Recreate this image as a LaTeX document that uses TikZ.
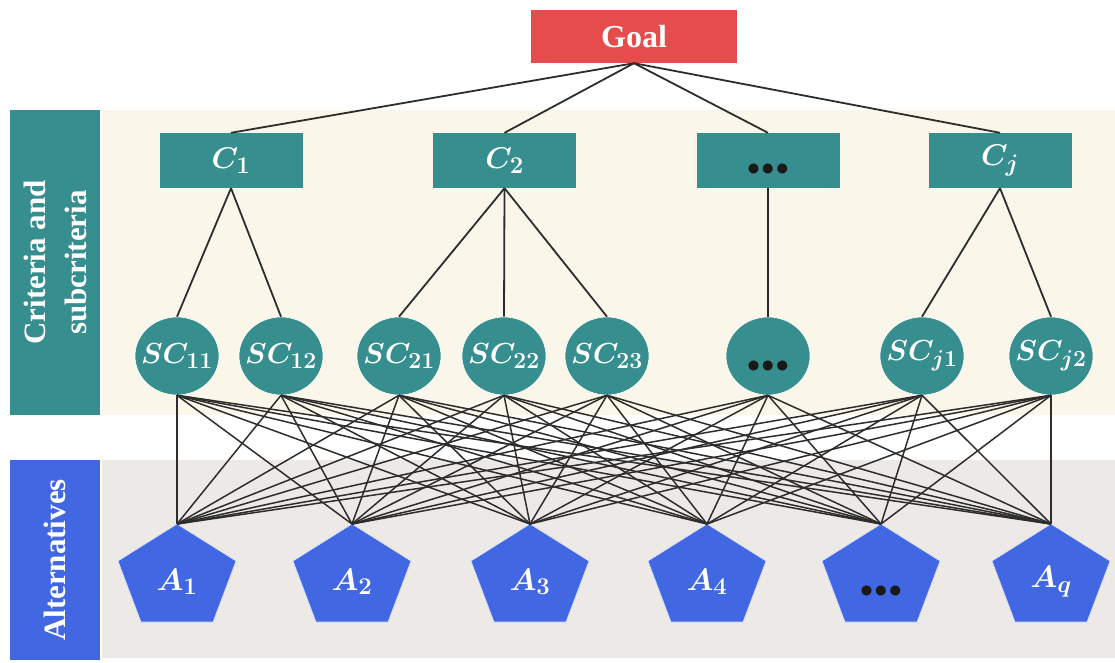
\RequirePackage{fix-cm}
\documentclass[tikz,border=0pt]{standalone}
\usepackage[no-math]{fontspec}
\setmainfont{Liberation Serif}
\usetikzlibrary{shapes.geometric}
\DeclareMathSizes{29}{29}{23}{18}
\DeclareMathSizes{30}{30}{24}{19}
\DeclareMathSizes{31}{31}{24}{19}
\definecolor{tealc}{RGB}{54,142,142}
\definecolor{goalred}{RGB}{230,76,76}
\definecolor{altblue}{RGB}{66,103,226}
\definecolor{beigebg}{RGB}{250,246,233}
\definecolor{graybg}{RGB}{236,233,231}
\definecolor{linec}{RGB}{45,45,45}
\tikzset{
  goalbox/.style={fill=goalred, minimum width=206pt, minimum height=53pt, inner sep=0pt, text=white, font=\fontsize{32}{36}\selectfont\bfseries},
  critbox/.style={fill=tealc, minimum width=143pt, minimum height=55pt, inner sep=0pt, text=white, font=\fontsize{30}{34}\selectfont\boldmath},
  subell/.style={ellipse, fill=tealc, draw=white, line width=0.6pt, minimum width=84pt, minimum height=78pt, inner sep=0pt},
  sublabel/.style={text=white, font=\fontsize{29}{34}\selectfont\boldmath, inner sep=0pt},
  sidebox/.style={rotate=90, inner sep=0pt, text=white, align=center, font=\fontsize{31}{41}\selectfont\bfseries},
  alabel/.style={text=white, font=\fontsize{31}{36}\selectfont\boldmath, inner sep=0pt},
  dots/.style={text=black!90, font=\fontsize{26}{30}\selectfont, inner sep=0pt},
  link/.style={draw=linec, line width=1.8pt},
  mesh/.style={draw=linec, line width=1.5pt},
  pent/.style={fill=altblue, draw=white!80!altblue, line width=0.6pt}
}
\newcommand\mypent[3]{%
  \path[pent] (#2,524) -- (#2+59,561) -- (#2+36,622) -- (#2-36,622) -- (#2-59,561) -- cycle;
  \coordinate (#1) at (#2,524);
  \node[alabel] (#1l) at (#2,582) {#3};}
\begin{document}
\begin{tikzpicture}[x=1pt,y=-1pt]
\useasboundingbox (0,0) rectangle (1115,662);
\fill[white] (0,0) rectangle (1115,662);
\fill[beigebg] (102,110) rectangle (1115,415);
\fill[graybg] (102,460) rectangle (1115,658);
% side labels
\node[sidebox, fill=tealc, minimum width=305pt, minimum height=90pt] (critlab) at (55,262.5) {Criteria and\\subcriteria};
\node[sidebox, fill=altblue, minimum width=200pt, minimum height=90pt] (altlab) at (55,560) {Alternatives};
% goal
\node[goalbox] (goal) at (634,36.5) {Goal};
% criteria
\node[critbox] (c1) at (231,160.5) {$C_1$};
\node[critbox] (c2) at (504.5,160.5) {$C_2$};
\node[critbox] (cd) at (768,160.5) {};
\node[dots] (cdd) at (768,170) {$\bullet\!\bullet\!\bullet$};
\node[critbox] (cj) at (1000,160.5) {$C_j$};
% subcriteria
\node[subell] (s11) at (177,356) {};
\node[subell] (s12) at (281,356) {};
\node[subell] (s21) at (399,356) {};
\node[subell] (s22) at (504,356) {};
\node[subell] (s23) at (607,356) {};
\node[subell] (sd) at (768,356) {};
\node[subell] (sj1) at (922,356) {};
\node[subell] (sj2) at (1051,356) {};
\node[sublabel] at (s11) {$SC_{11}$};
\node[sublabel] at (s12) {$SC_{12}$};
\node[sublabel] at (s21) {$SC_{21}$};
\node[sublabel] at (s22) {$SC_{22}$};
\node[sublabel] at (s23) {$SC_{23}$};
\node[dots] (sdd) at (768,367) {$\bullet\!\bullet\!\bullet$};
\node[sublabel] at (sj1) {$SC_{j1}$};
\node[sublabel] at (sj2) {$SC_{j2}$};
% alternatives
\mypent{a1}{177}{$A_1$}
\mypent{a2}{352}{$A_2$}
\mypent{a3}{530}{$A_3$}
\mypent{a4}{707}{$A_4$}
\mypent{ad}{881}{}
\node[dots] (add) at (881,592) {$\bullet\!\bullet\!\bullet$};
\mypent{aq}{1051}{$A_q$}
% links goal -> criteria
\foreach \c in {c1,c2,cd,cj} \draw[link] (goal.south) -- (\c.north);
% criteria -> subcriteria
\draw[link] (c1.south) -- (s11.north);
\draw[link] (c1.south) -- (s12.north);
\draw[link] (c2.south) -- (s21.north);
\draw[link] (c2.south) -- (s22.north);
\draw[link] (c2.south) -- (s23.north);
\draw[link] (cd.south) -- (sd.north);
\draw[link] (cj.south) -- (sj1.north);
\draw[link] (cj.south) -- (sj2.north);
% subcriteria -> alternatives
\foreach \s in {s11,s12,s21,s22,s23,sd,sj1,sj2}
  \foreach \a in {a1,a2,a3,a4,ad,aq}
    \draw[mesh] (\s.south) -- (\a);
\end{tikzpicture}
\end{document}
